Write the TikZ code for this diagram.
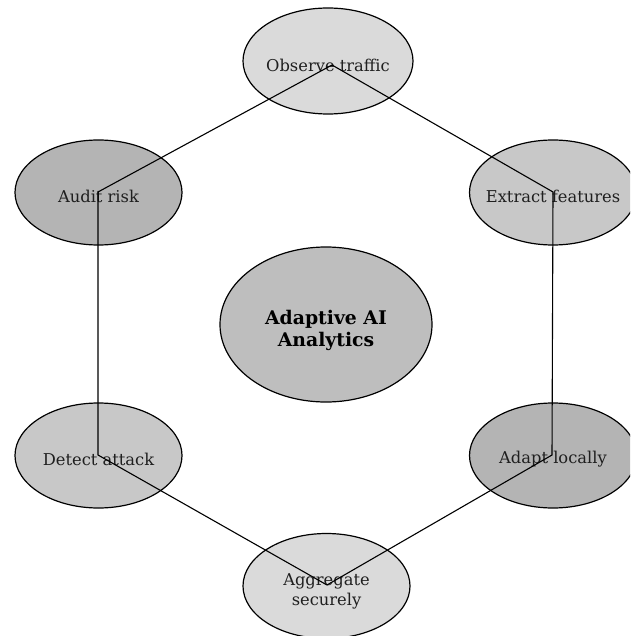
\documentclass[tikz,border=0pt]{standalone}
\usepackage{fontspec}
\setmainfont{DejaVu Serif}
\usetikzlibrary{shapes.geometric}
\definecolor{lightA}{HTML}{DADADA}
\definecolor{midB}{HTML}{C8C8C8}
\definecolor{darkC}{HTML}{B4B4B4}
\definecolor{hubD}{HTML}{BEBEBE}
\begin{document}
\begin{tikzpicture}[x=1pt,y=-1pt,
  stage/.style={ellipse,draw=black,line width=1.2pt,minimum width=167pt,minimum height=105pt,inner sep=0pt},
  stagetext/.style={font=\fontsize{16.3}{20}\selectfont,align=center,text=black!88,yshift=-4pt,inner sep=0pt},
  hub/.style={ellipse,draw=black,line width=1.2pt,minimum width=212pt,minimum height=155pt,inner sep=0pt},
  hubtext/.style={font=\bfseries\fontsize{18.8}{22}\selectfont,align=center,yshift=-5.5pt,inner sep=0pt},
  link/.style={draw=black,line width=1.1pt}]
\useasboundingbox (0,0) rectangle (630,636);
\begin{scope}
\clip (0,0) rectangle (630,636);
\node[stage,fill=lightA,minimum width=170pt,minimum height=106pt,label={[stagetext]center:Observe traffic}] (obs) at (328,61) {};
\node[stage,fill=midB,label={[stagetext]center:Extract features}] (ext) at (553,192.5) {};
\node[stage,fill=darkC,label={[stagetext]center:Adapt locally}] (ada) at (553,455.5) {};
\node[stage,fill=lightA,label={[stagetext,yshift=-1.5pt]center:Aggregate\\securely}] (agg) at (326.5,586) {};
\node[stage,fill=midB,label={[stagetext]center:Detect attack}] (det) at (98.5,455.5) {};
\node[stage,fill=darkC,label={[stagetext]center:Audit risk}] (aud) at (98.5,192.5) {};
\node[hub,fill=hubD,label={[hubtext]center:Adaptive AI\\Analytics}] (hub) at (326,324.5) {};
\coordinate (jobs) at (332,65);
\coordinate (jext) at (553,192);
\coordinate (jada) at (552,455);
\coordinate (jagg) at (327,585);
\coordinate (jdet) at (98,455);
\coordinate (jaud) at (98,192);
\draw[link] (jobs) -- (jext) -- (jada) -- (jagg) -- (jdet) -- (jaud) -- cycle;
\end{scope}
\end{tikzpicture}
\end{document}
